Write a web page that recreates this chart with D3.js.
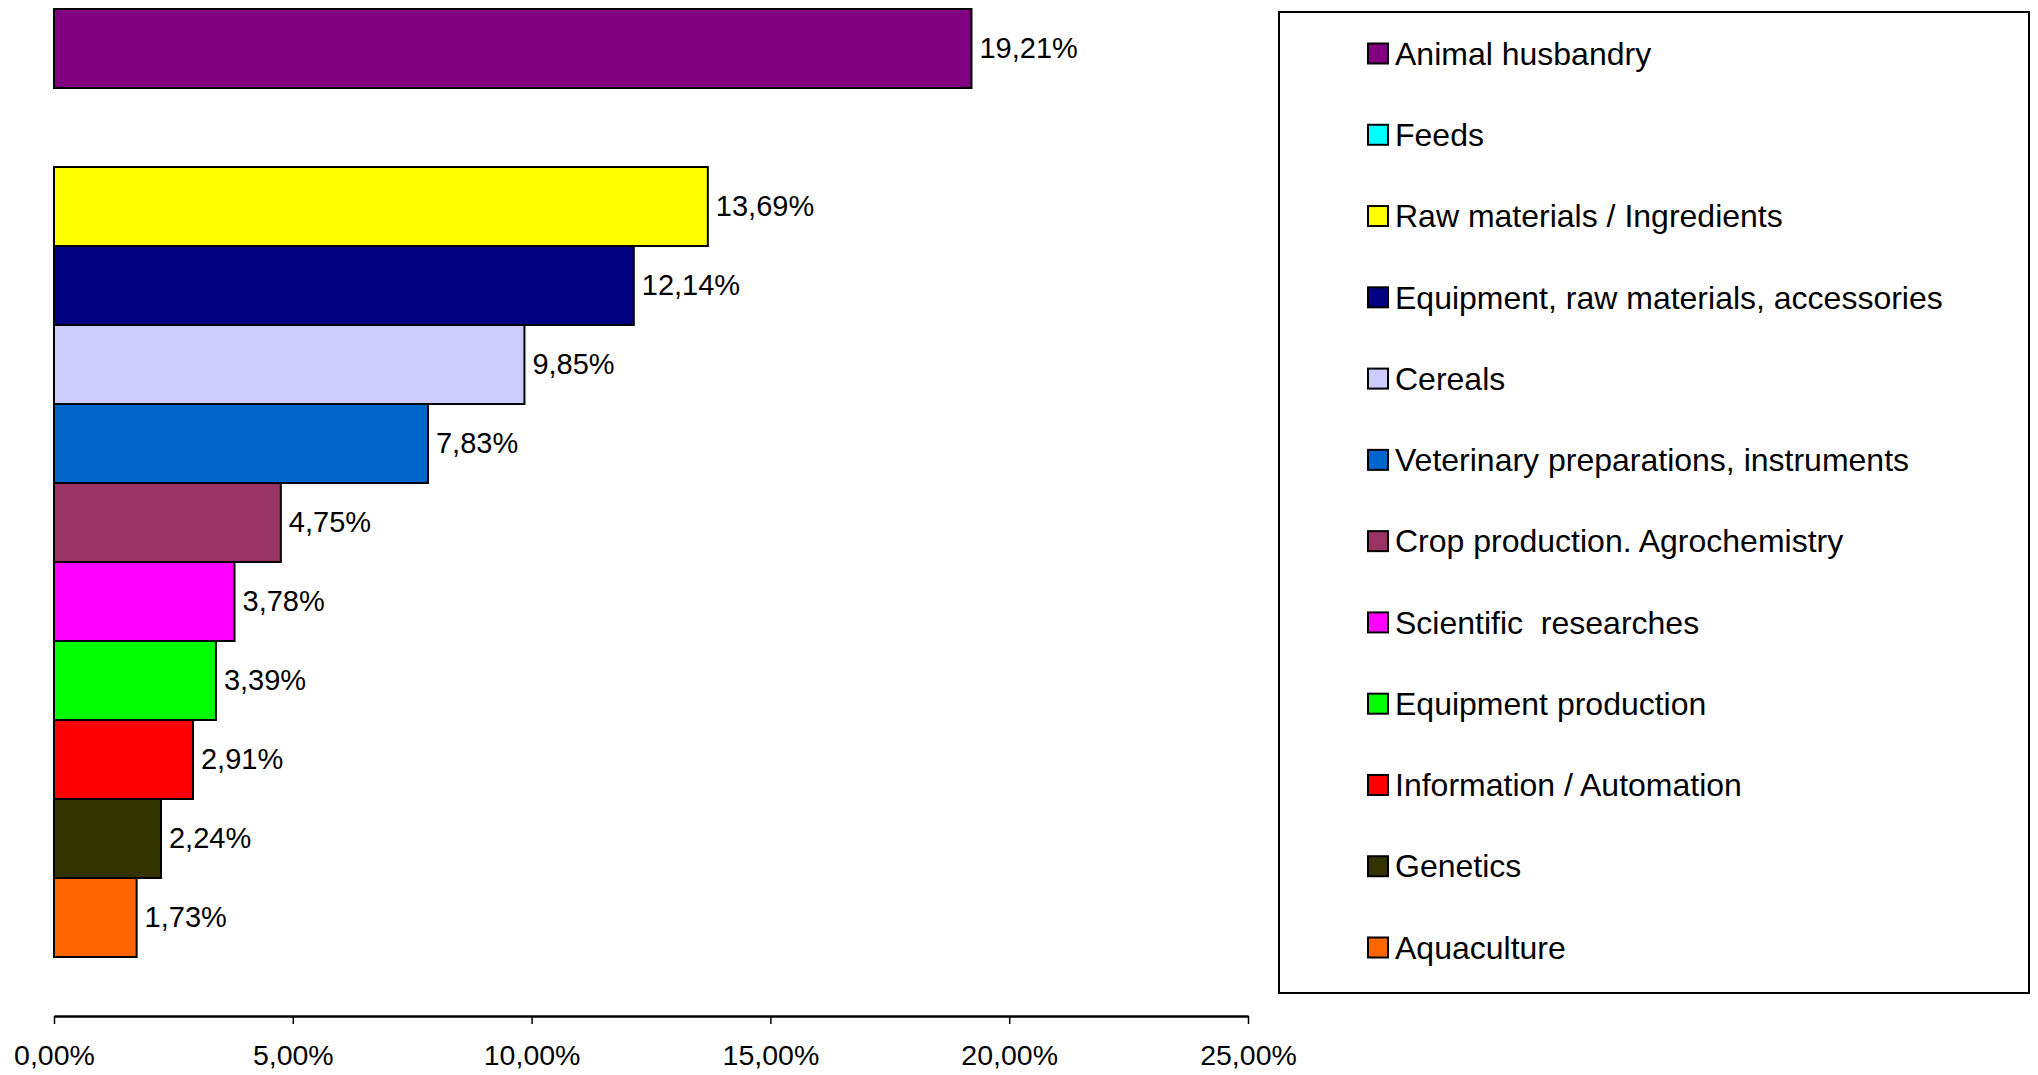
<!DOCTYPE html>
<html>
<head>
<meta charset="utf-8">
<script src="https://cdn.jsdelivr.net/npm/d3@7"></script>
<style>
html,body{margin:0;padding:0;background:#fff;}
svg{display:block;font-family:"Liberation Sans",Arial,sans-serif;}
</style>
</head>
<body>
<svg id="chart" width="2038" height="1075"></svg>
<script>
const categories = ["Animal husbandry","Feeds","Raw materials / Ingredients","Equipment, raw materials, accessories","Cereals","Veterinary preparations, instruments","Crop production. Agrochemistry","Scientific  researches","Equipment production","Information / Automation","Genetics","Aquaculture"];
const values = [19.21, null, 13.69, 12.14, 9.85, 7.83, 4.75, 3.78, 3.39, 2.91, 2.24, 1.73];
const colors = ["#800080","#00FFFF","#FFFF00","#000080","#CCCCFF","#0066CC","#993366","#FF00FF","#00FF00","#FF0000","#333300","#FF6600"];
const tickValues = [0,5,10,15,20,25];

const svg = d3.select("#chart");
const x = d3.scaleLinear().domain([0,25]).range([54,1248]);
const y = d3.scaleBand().domain(categories).range([9,957]).padding(0);
const fmt = v => d3.format(".2f")(v).replace(".", ",") + "%";

const data = categories.map((c,i)=>({c, v: values[i], col: colors[i]})).filter(d => d.v != null);

svg.append("g").selectAll("rect").data(data).join("rect")
  .attr("x", x(0)).attr("y", d => y(d.c))
  .attr("width", d => x(d.v) - x(0)).attr("height", y.bandwidth())
  .attr("fill", d => d.col).attr("stroke", "#000").attr("stroke-width", 2);

svg.append("g").selectAll("text").data(data).join("text")
  .attr("x", d => x(d.v) + 8).attr("y", d => y(d.c) + y.bandwidth()/2 - 1)
  .attr("dy", "0.35em").attr("font-size", 29).attr("fill", "#000")
  .text(d => fmt(d.v));

const axis = svg.append("g").attr("transform", "translate(0,1016)")
  .call(d3.axisBottom(x).tickValues(tickValues).tickSize(8).tickSizeOuter(0).tickPadding(21).tickFormat(fmt));
axis.select(".domain").attr("stroke", "#000").attr("stroke-width", 2.5);
axis.selectAll(".tick line").attr("stroke", "#000").attr("stroke-width", 1.5);
axis.selectAll(".tick text").attr("font-size", 28.5).attr("fill", "#000").attr("font-family", "Liberation Sans, Arial, sans-serif");

// legend
const lg = svg.append("g");
lg.append("rect").attr("x", 1279).attr("y", 12).attr("width", 750).attr("height", 981)
  .attr("fill", "#fff").attr("stroke", "#000").attr("stroke-width", 2);
const ly = d3.scalePoint().domain(categories).range([53.5, 947.5]);
const items = lg.selectAll("g.item").data(categories.map((c,i)=>({c, col: colors[i]}))).join("g")
  .attr("class","item").attr("transform", d => `translate(0,${ly(d.c)})`);
items.append("rect").attr("x", 1368).attr("y", -10).attr("width", 20).attr("height", 20)
  .attr("fill", d => d.col).attr("stroke", "#000").attr("stroke-width", 2);
items.append("text").attr("x", 1395).attr("dy", "0.35em").attr("font-size", 32).attr("fill", "#000")
  .attr("xml:space","preserve").style("white-space","pre").text(d => d.c);
</script>
</body>
</html>
